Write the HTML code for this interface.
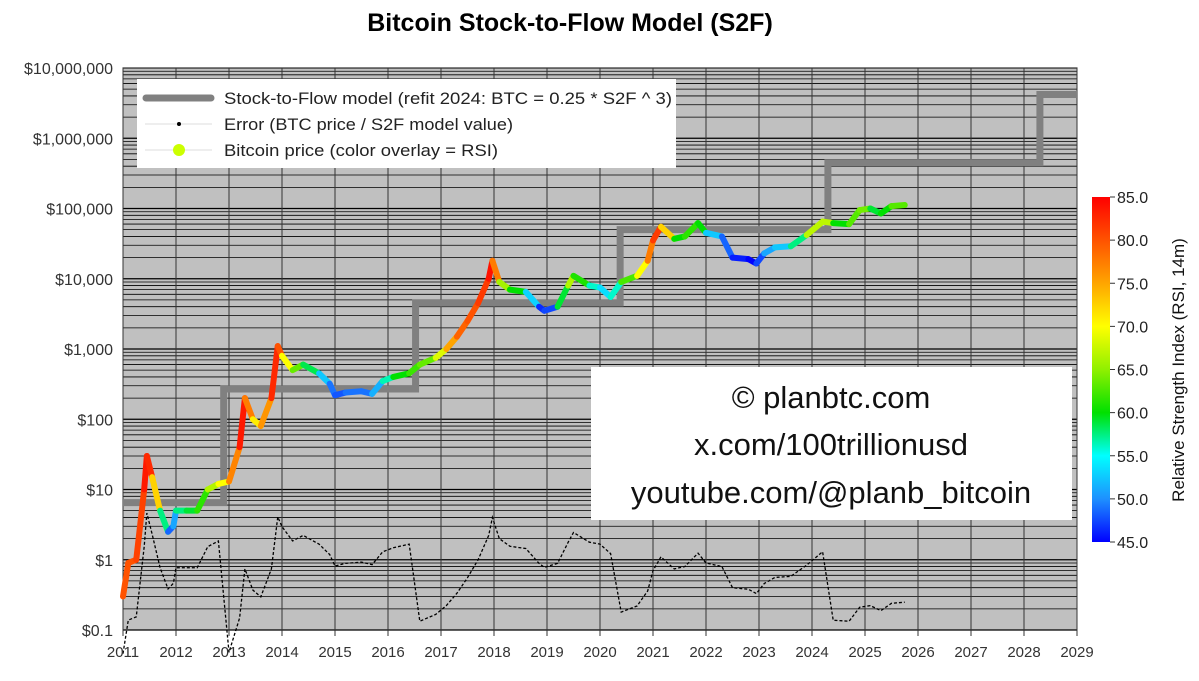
<!DOCTYPE html>
<html><head><meta charset="utf-8"><style>
body{margin:0;background:#fff;}
svg text{font-family:"Liberation Sans",sans-serif;}
</style></head><body>
<svg id="c" width="1199" height="676" xmlns="http://www.w3.org/2000/svg">
<text x="570" y="31" text-anchor="middle" font-size="25" font-weight="bold">Bitcoin Stock-to-Flow Model (S2F)</text>
<g id="grid"></g>
<g id="model"></g>
<g id="err"></g>
<g id="price"></g>
<g id="axes"></g>
<g>
<rect x="137" y="79" width="539" height="89" fill="#fff"/>
<line x1="146" y1="98" x2="211" y2="98" stroke="#808080" stroke-width="7" stroke-linecap="round"/>
<text x="224" y="104" font-size="17" fill="#222" textLength="448" lengthAdjust="spacingAndGlyphs">Stock-to-Flow model (refit 2024:  BTC = 0.25 * S2F ^ 3)</text>
<line x1="145" y1="124" x2="212" y2="124" stroke="#ddd" stroke-width="1"/>
<circle cx="179" cy="124" r="2" fill="#000"/>
<text x="224" y="130" font-size="17" fill="#222" textLength="289" lengthAdjust="spacingAndGlyphs">Error (BTC price / S2F model value)</text>
<line x1="145" y1="150" x2="212" y2="150" stroke="#ddd" stroke-width="1"/>
<circle cx="179" cy="150" r="6" fill="#ccff00"/>
<text x="224" y="156" font-size="17" fill="#222" textLength="274" lengthAdjust="spacingAndGlyphs">Bitcoin price (color overlay = RSI)</text>
</g>
<g>
<rect x="591" y="367" width="481" height="153" fill="#fff"/>
<text x="831" y="408" text-anchor="middle" font-size="31" fill="#111">© planbtc.com</text>
<text x="831" y="455" text-anchor="middle" font-size="31" fill="#111">x.com/100trillionusd</text>
<text x="831" y="503" text-anchor="middle" font-size="31" fill="#111">youtube.com/@planb_bitcoin</text>
</g>
<defs><linearGradient id="cb" x1="0" y1="1" x2="0" y2="0">
<stop offset="0" stop-color="#0000ff"/><stop offset="0.125" stop-color="#1e90ff"/><stop offset="0.25" stop-color="#00ffff"/>
<stop offset="0.375" stop-color="#00e000"/><stop offset="0.5" stop-color="#90f000"/><stop offset="0.625" stop-color="#ffff00"/>
<stop offset="0.75" stop-color="#ffa500"/><stop offset="1" stop-color="#ff0000"/></linearGradient></defs>
<g id="cbar">
<rect x="1092" y="197" width="18" height="345" fill="url(#cb)"/>
<text transform="translate(1184,370) rotate(-90)" text-anchor="middle" font-size="17" fill="#111">Relative Strength Index (RSI, 14m)</text>
</g>
</svg>
<script>
const years=[2011,2012,2013,2014,2015,2016,2017,2018,2019,2020,2021,2022,2023,2024,2025,2026,2027,2028,2029];
const yTickVals=[0.1,1,10,100,1000,10000,100000,1000000,10000000];
const yTickLabels=["$0.1","$1","$10","$100","$1,000","$10,000","$100,000","$1,000,000","$10,000,000"];
const modelYears=[2011.0,2012.9,2012.9,2016.52,2016.52,2020.38,2020.38,2024.3,2024.3,2028.3,2028.3,2029];
const modelVals=[6.5,6.5,270,270,4500,4500,50000,50000,450000,450000,4200000,4200000];
const priceYears=[2011.0,2011.1,2011.25,2011.4,2011.45,2011.55,2011.7,2011.85,2011.95,2012.0,2012.2,2012.4,2012.6,2012.8,2013.0,2013.2,2013.3,2013.45,2013.6,2013.8,2013.92,2014.0,2014.2,2014.4,2014.7,2014.9,2015.0,2015.2,2015.5,2015.7,2015.9,2016.1,2016.4,2016.6,2016.9,2017.1,2017.3,2017.5,2017.7,2017.9,2017.97,2018.1,2018.3,2018.6,2018.85,2018.95,2019.2,2019.4,2019.5,2019.8,2020.0,2020.2,2020.4,2020.7,2020.9,2021.0,2021.15,2021.4,2021.6,2021.85,2022.0,2022.3,2022.5,2022.8,2022.95,2023.1,2023.3,2023.6,2023.9,2024.2,2024.4,2024.7,2024.9,2025.1,2025.3,2025.5,2025.75];
const priceVals=[0.3,0.9,1.0,10,30,15,5,2.5,3,5,5,5,10,12,13,40,200,100,80,200,1100,800,500,600,450,320,220,240,250,230,350,400,450,600,750,1000,1500,2500,4500,10000,18000,9000,7000,6500,4000,3500,4000,8000,11000,8000,7500,5500,9000,11000,18000,35000,55000,37000,40000,62000,45000,40000,20000,19000,16500,23000,28000,29000,42000,65000,62000,60000,95000,100000,85000,108000,112000];
const rsiVals=[80,80,80,82,85,80,65,50,47,55,60,58,65,68,72,82,85,70,72,80,85,75,65,62,55,50,48,48,50,48,55,58,62,62,65,72,78,80,80,83,85,70,62,58,48,45,50,68,65,57,55,52,60,65,75,80,83,62,58,65,55,50,47,45,45,50,52,53,62,72,62,58,68,60,58,62,64];
const cbTicks=[45,50,55,60,65,70,75,80,85];

const X0=123,PXY=53,Y0=630,PXD=70.25;
const xs=y=>X0+(y-2011)*PXY;
const ys=v=>Y0-(Math.log10(v)+1)*PXD;
const NS="http://www.w3.org/2000/svg";
function mk(t,a,p){const e=document.createElementNS(NS,t);for(const k in a)e.setAttribute(k,a[k]);p.appendChild(e);return e;}
function rsiColor(r){
 const stops=[[45,[0,0,255]],[50,[30,144,255]],[55,[0,255,255]],[60,[0,224,0]],[65,[144,240,0]],[70,[255,255,0]],[75,[255,165,0]],[85,[255,0,0]]];
 r=Math.max(45,Math.min(85,r));
 for(let i=1;i<stops.length;i++){if(r<=stops[i][0]){const [a,ca]=stops[i-1],[b,cb]=stops[i];const t=(r-a)/(b-a);
 return `rgb(${ca.map((c,j)=>Math.round(c+(cb[j]-c)*t)).join(',')})`;}}
 return 'rgb(255,0,0)';
}
const grid=document.getElementById('grid');
const x1=xs(2011),x2=xs(2029),yt=ys(1e7),yb=ys(0.1);
const bg=mk('rect',{x:x1,y:yt,width:x2-x1,height:yb-yt,fill:'#c0c0c0',stroke:'#000'},grid);


for(let d=-1;d<7;d++)for(let m=1;m<10;m++){const v=m*Math.pow(10,d);const y=ys(v);
 mk('line',{x1:x1,x2:x2,y1:y,y2:y,stroke:'#000','stroke-width':m==1?1.2:0.8},grid);}
const axes=document.getElementById('axes');
years.forEach(yr=>{const x=xs(yr);
 mk('line',{x1:x,x2:x,y1:yt,y2:yb,stroke:'#333','stroke-width':1},grid);
 mk('line',{x1:x,x2:x,y1:yb,y2:yb+6,stroke:'#333'},axes);
 const t=mk('text',{x:x,y:yb+27,'text-anchor':'middle','font-size':15,fill:'#333'},axes);t.textContent=yr;
 
 
});
yTickVals.forEach((v,i)=>{const t=mk('text',{x:113,y:ys(v)+6,'text-anchor':'end','font-size':16,fill:'#333'},axes);t.textContent=yTickLabels[i];
 
 
});
let pts=modelYears.map((y,i)=>xs(y)+','+ys(modelVals[i])).join(' ');
const ml=mk('polyline',{points:pts,fill:'none',stroke:'#808080','stroke-width':7},document.getElementById('model'));


function modelAt(y){let v=modelVals[0];for(let i=0;i<modelYears.length;i++)if(modelYears[i]<=y)v=modelVals[i];return v;}
pts=priceYears.map((y,i)=>xs(y)+','+ys(priceVals[i]/modelAt(y))).join(' ');
const el=mk('polyline',{points:pts,fill:'none',stroke:'#000','stroke-width':1.3,'stroke-dasharray':'3,2'},document.getElementById('err'));


const pg=document.getElementById('price');
for(let i=1;i<priceYears.length;i++){
 const s=mk('line',{x1:xs(priceYears[i-1]),y1:ys(priceVals[i-1]),x2:xs(priceYears[i]),y2:ys(priceVals[i]),stroke:rsiColor((rsiVals[i-1]+rsiVals[i])/2),'stroke-width':6,'stroke-linecap':'round'},pg);
 
 
}
const cbar=document.getElementById('cbar');
cbTicks.forEach(v=>{const y=542-(v-45)/40*345;
 mk('line',{x1:1110,x2:1115,y1:y,y2:y,stroke:'#333'},cbar);
 const t=mk('text',{x:1117,y:y+6,'font-size':16,fill:'#222'},cbar);t.textContent=v.toFixed(1);
 
 
});
</script>
</body></html>
